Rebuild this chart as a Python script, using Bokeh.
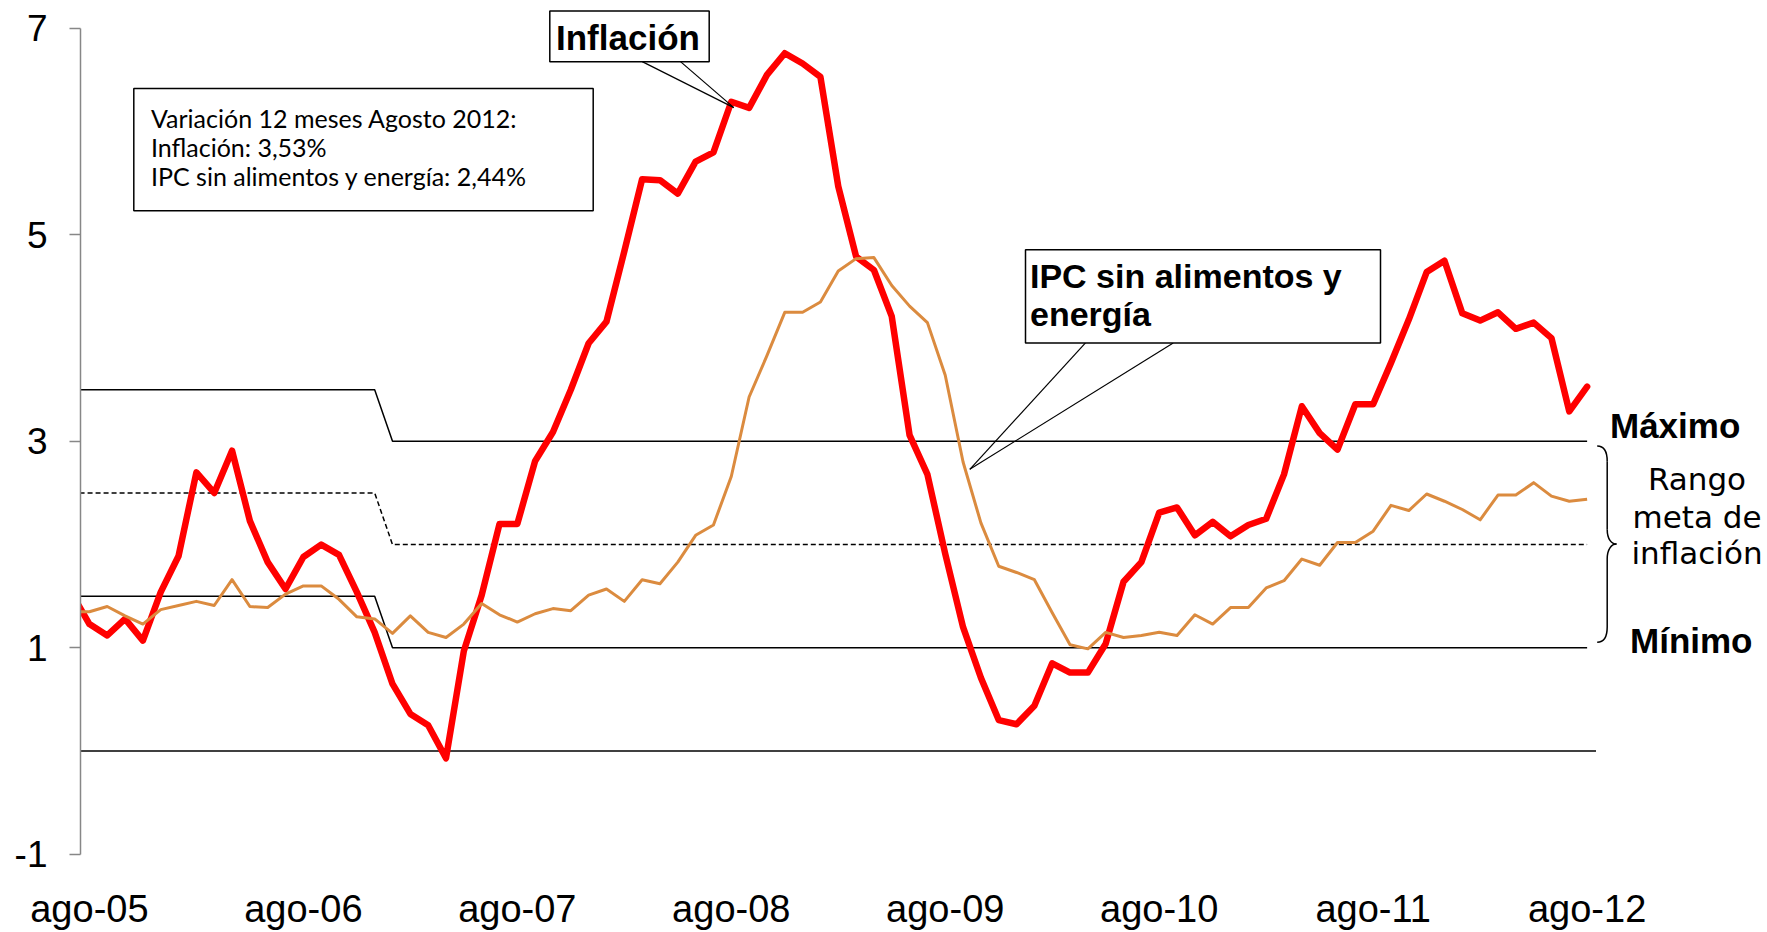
from bokeh.plotting import figure
from bokeh.models import Range1d, FixedTicker
from bokeh.core.properties import value
from bokeh.embed import file_html
from bokeh.resources import INLINE

# ---------------- data ----------------
# month index: -1 = jul-05, 0 = ago-05 ... 84 = ago-12
month_index = list(range(-1, 85))

inflacion = [
    1.53,
    1.23, 1.12, 1.28, 1.07, 1.54, 1.89, 2.70, 2.50, 2.91, 2.23, 1.83, 1.57,   # ago-05 .. jul-06
    1.88, 2.00, 1.90, 1.54, 1.15, 0.65, 0.36, 0.25, -0.07, 0.97, 1.51, 2.20,  # ago-06 .. jul-07
    2.20, 2.81, 3.09, 3.50, 3.95, 4.16, 4.84, 5.54, 5.53, 5.40, 5.71, 5.80,   # ago-07 .. jul-08
    6.29, 6.23, 6.55, 6.76, 6.66, 6.53, 5.47, 4.79, 4.66, 4.21, 3.06, 2.68,   # ago-08 .. jul-09
    1.91, 1.20, 0.71, 0.30, 0.26, 0.44, 0.85, 0.76, 0.76, 1.04, 1.64, 1.83,   # ago-09 .. jul-10
    2.31, 2.36, 2.09, 2.22, 2.08, 2.19, 2.25, 2.68, 3.34, 3.08, 2.92, 3.36,   # ago-10 .. jul-11
    3.36, 3.76, 4.18, 4.64, 4.75, 4.24, 4.17, 4.25, 4.09, 4.15, 4.00, 3.29,   # ago-11 .. jul-12
    3.53,                                                                     # ago-12
]

ipc_sin_alimentos_energia = [
    1.35,
    1.35, 1.40, 1.31, 1.23, 1.37, 1.41, 1.45, 1.41, 1.66, 1.40, 1.39, 1.52,
    1.60, 1.60, 1.47, 1.30, 1.28, 1.14, 1.31, 1.15, 1.10, 1.23, 1.43, 1.32,
    1.25, 1.33, 1.38, 1.36, 1.51, 1.57, 1.45, 1.66, 1.62, 1.83, 2.09, 2.19,
    2.66, 3.43, 3.83, 4.25, 4.25, 4.35, 4.65, 4.77, 4.78, 4.51, 4.31, 4.15,
    3.64, 2.80, 2.21, 1.79, 1.73, 1.66, 1.34, 1.03, 0.99, 1.15, 1.10, 1.12,
    1.15, 1.12, 1.32, 1.23, 1.39, 1.39, 1.58, 1.65, 1.86, 1.80, 2.02, 2.02,
    2.13, 2.38, 2.33, 2.49, 2.42, 2.34, 2.24, 2.48, 2.48, 2.60, 2.47, 2.42,
    2.44,
]

# target range (jul-05..dic-06 : 2.5 +/- 1 ; ene-07 onwards : 2 +/- 1)
meta_maximo = [3.5] * 18 + [3.0] * 68
meta_centro = [2.5] * 18 + [2.0] * 68
meta_minimo = [1.5] * 18 + [1.0] * 68

x_tick_pos = [0, 12, 24, 36, 48, 60, 72, 84]
x_tick_labels = ["ago-05", "ago-06", "ago-07", "ago-08", "ago-09", "ago-10", "ago-11", "ago-12"]
y_ticks = [-1, 1, 3, 5, 7]
y_tick_labels = ["-1", "1", "3", "5", "7"]

# ---------------- layout helpers (page px -> data units) ----------------
PX_X0, PX_PER_M = 88.9, 17.83
PX_Y0, PX_PER_U = 752.5, 103.5


def dx(sx):
    return (sx - PX_X0) / PX_PER_M


def dy(sy):
    return (PX_Y0 - sy) / PX_PER_U


def ty(baseline_sy, fs):
    # text glyph baseline correction
    return dy(baseline_sy - 0.345 * fs)


W, H = 1767, 932
FRAME_LEFT, FRAME_BOTTOM = 80, 856

p = figure(
    width=W, height=H,
    output_backend="svg", toolbar_location=None,
    x_range=Range1d(dx(FRAME_LEFT), dx(W)),
    y_range=Range1d(-1.002, dy(0)),
    min_border_left=FRAME_LEFT, min_border_right=0, min_border_top=0,
    min_border_bottom=H - FRAME_BOTTOM,
)
p.outline_line_color = None
p.xgrid.visible = False
p.ygrid.visible = False
p.background_fill_color = "white"
p.border_fill_color = "white"

AX_FONT = "Liberation Sans"

# y axis
yax = p.yaxis[0]
yax.bounds = (-1, 7)
yax.ticker = FixedTicker(ticks=y_ticks)
yax.major_label_overrides = dict(zip(y_ticks, y_tick_labels))
yax.axis_line_color = "#878787"
yax.axis_line_width = 1.5
yax.major_tick_line_color = "#878787"
yax.major_tick_line_width = 1.5
yax.major_tick_out = 11
yax.major_tick_in = 0
yax.minor_tick_line_color = None
yax.major_label_text_font = AX_FONT
yax.major_label_text_font_size = "37px"
yax.major_label_text_color = "black"
yax.major_label_standoff = 22

# x axis
xax = p.xaxis[0]
xax.ticker = FixedTicker(ticks=x_tick_pos)
xax.major_label_overrides = dict(zip(x_tick_pos, x_tick_labels))
xax.axis_line_color = None
xax.major_tick_line_color = None
xax.major_tick_out = 0
xax.major_tick_in = 0
xax.minor_tick_line_color = None
xax.major_label_text_font = AX_FONT
xax.major_label_text_font_size = "38px"
xax.major_label_text_color = "black"
xax.major_label_standoff = 33

# zero line (horizontal axis crossing)
p.segment(x0=[dx(FRAME_LEFT)], y0=[0], x1=[month_index[-1] + 0.5], y1=[0], line_color="black", line_width=1.5)

# target range lines
p.line(month_index, meta_maximo, line_color="black", line_width=1.5)
p.line(month_index, meta_centro, line_color="black", line_width=1.5, line_dash="5 3")
p.line(month_index, meta_minimo, line_color="black", line_width=1.5)

# series
p.line(month_index, inflacion, line_color="#FF0000", line_width=6.5, line_join="round", line_cap="round")
p.line(month_index, ipc_sin_alimentos_energia, line_color="#DB8B3F", line_width=3, line_join="round")

# ---------------- annotations ----------------
# info box
p.quad(left=[dx(133.3)], right=[dx(592.7)], top=[dy(88.3)], bottom=[dy(210.7)],
       fill_color="white", line_color="black", line_width=1.5)
info_lines = ["Variación 12 meses Agosto 2012:", "Inflación: 3,53%", "IPC sin alimentos y energía: 2,44%"]
p.text(x=[dx(150.5)] * 3, y=[ty(126.7, 25), ty(155.5, 25), ty(185, 25)], text=info_lines,
       text_font=value("Lato"), text_font_size="25px", text_color="black",
       text_align="left", text_baseline="alphabetic")

# "Inflación" callout
p.segment(x0=[dx(641.7), dx(680)], y0=[dy(61.3), dy(61.3)], x1=[dx(733.3), dx(733.3)], y1=[dy(107.4), dy(107.4)],
          line_color="black", line_width=1.2)
p.quad(left=[dx(549.3)], right=[dx(708.7)], top=[dy(10.5)], bottom=[dy(61.5)],
       fill_color="white", line_color="black", line_width=1.5)
p.text(x=[dx(555.5)], y=[ty(49.5, 35)], text=["Inflación"], text_font=value(AX_FONT), text_font_style="bold",
       text_font_size="35px", text_color="black", text_align="left", text_baseline="alphabetic")

# "IPC sin alimentos y energía" callout
p.segment(x0=[dx(1085), dx(1172.7)], y0=[dy(343.3), dy(343.3)], x1=[dx(969.3), dx(969.3)], y1=[dy(470), dy(470)],
          line_color="black", line_width=1.2)
p.quad(left=[dx(1025)], right=[dx(1380)], top=[dy(250)], bottom=[dy(343.3)],
       fill_color="white", line_color="black", line_width=1.5)
p.text(x=[dx(1029.5)] * 2, y=[ty(287.7, 34), ty(326, 34)], text=["IPC sin alimentos y", "energía"],
       text_font=value(AX_FONT), text_font_style="bold", text_font_size="34px", text_color="black",
       text_align="left", text_baseline="alphabetic")

# right-hand labels
p.text(x=[dx(1609.5)], y=[ty(438.3, 35)], text=["Máximo"], text_font=value(AX_FONT), text_font_style="bold",
       text_font_size="35px", text_color="black", text_align="left", text_baseline="alphabetic")
p.text(x=[dx(1629.5)], y=[ty(653.3, 35)], text=["Mínimo"], text_font=value(AX_FONT), text_font_style="bold",
       text_font_size="35px", text_color="black", text_align="left", text_baseline="alphabetic")
p.text(x=[dx(1696.5)] * 3, y=[ty(490, 31), ty(528.3, 31), ty(565, 31)], text=["Rango", "meta de", "inflación"],
       text_font=value("DejaVu Sans"), text_font_size="31px", text_color="black",
       text_align="center", text_baseline="alphabetic")

# brace
bx_end, bx_mid, bx_tip = 1596.7, 1606.7, 1616.0
p.bezier(
    x0=[dx(bx_end), dx(bx_mid), dx(bx_tip), dx(bx_mid)],
    y0=[dy(446.7), dy(530), dy(545), dy(628)],
    x1=[dx(bx_mid), dx(bx_tip), dx(bx_mid), dx(bx_end)],
    y1=[dy(462), dy(545), dy(560), dy(643.3)],
    cx0=[dx(1603), dx(bx_mid), dx(1611), dx(bx_mid)],
    cy0=[dy(446.7), dy(540), dy(545), dy(638)],
    cx1=[dx(bx_mid), dx(1611), dx(bx_mid), dx(1603)],
    cy1=[dy(452), dy(545), dy(550), dy(643.3)],
    line_color="black", line_width=1.5,
)
p.segment(x0=[dx(bx_mid), dx(bx_mid)], y0=[dy(462), dy(560)], x1=[dx(bx_mid), dx(bx_mid)], y1=[dy(530), dy(628)],
          line_color="black", line_width=1.5)

open("out.html", "w").write(file_html(p, INLINE))
